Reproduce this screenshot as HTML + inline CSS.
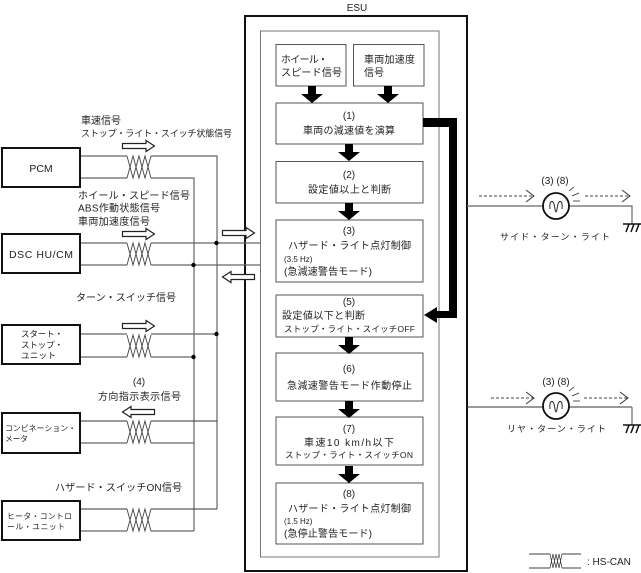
<!DOCTYPE html>
<html><head><meta charset="utf-8"><style>
html,body{margin:0;padding:0;background:#fff}
svg{display:block}
text{font-family:"Liberation Sans","Noto Sans CJK JP",sans-serif;fill:#222}
.g{stroke:#666;stroke-width:1.2;fill:none}
.d{stroke:#333;stroke-width:1;fill:none}
.b{fill:#fff;stroke:#555;stroke-width:1}
.k{fill:#fff;stroke:#111;stroke-width:2}
.h{fill:#fff;stroke:#222;stroke-width:1.2}
.dash{stroke:#444;stroke-width:1;fill:none;stroke-dasharray:3 2}
</style></head><body>
<svg width="641" height="573" viewBox="0 0 641 573" xmlns="http://www.w3.org/2000/svg">
<defs>
<path id="tw" d="M0 0L6 22L12 0L18 22L24 0M0 22L6 0L12 22L18 0L24 22" fill="none" stroke="#444" stroke-width="0.9"/>
<path id="ar" class="h" d="M0.5 -2.5H24V-5.5L32.5 0L24 5.5V2.5H0.5Z"/>
<path id="al" class="h" d="M32.5 -2.5H9V-5.5L0.5 0L9 5.5V2.5H32.5Z"/>
<path id="ba" fill="#000" d="M-4 0H4V8H11L0 17L-11 8H-4Z"/>
<g id="lamp"><circle r="13" fill="#fff" stroke="#111" stroke-width="1.8"/><path d="M-6 3C-7 -6 -3 -6 -2 -2C-1 1 -1 6 0 6C1 6 1 1 2 -2C3 -6 7 -6 6 3" fill="none" stroke="#222" stroke-width="1"/><path d="M13 -15L18 -19M16 -10L23 -13M17 -5H24" stroke="#555" stroke-width="1" fill="none"/></g>
<path id="gnd" d="M-9 0H9M-6 8L-3 0M-1 8L2 0M4 8L7 0" stroke="#111" stroke-width="1.5" fill="none"/>
<path id="oa" d="M0 -6L8 0L0 6" fill="none" stroke="#333" stroke-width="1"/>
</defs>

<!-- ESU -->
<text x="357" y="11" font-size="10" text-anchor="middle">ESU</text>
<rect x="245" y="16" width="222" height="555" fill="#fff" stroke="#111" stroke-width="2"/>

<!-- wires -->
<path class="g" d="M80 156H127M151 156H217V509"/>
<path class="g" d="M80 178H127M151 178H194V531"/>
<path class="g" d="M80 243H127M151 243H261"/>
<path class="g" d="M80 265H127M151 265H261"/>
<path class="g" d="M80 334H127M151 334H217"/>
<path class="g" d="M80 357H127M151 357H194"/>
<path class="d" d="M80 421H127M151 421H217"/>
<path class="g" d="M80 443H127M151 443H194"/>
<path class="d" d="M80 509H127M151 509H217"/>
<path class="g" d="M80 531H127M151 531H194"/>
<circle cx="216.500" cy="243" r="2.200" fill="#000"/><circle cx="193.500" cy="265" r="2.200" fill="#000"/>
<circle cx="216.500" cy="334" r="2.200" fill="#000"/><circle cx="193.500" cy="357" r="2.200" fill="#000"/>
<use href="#tw" x="127" y="156"/><use href="#tw" x="127" y="243"/><use href="#tw" x="127" y="335"/>
<use href="#tw" x="127" y="421"/><use href="#tw" x="127" y="509"/>

<!-- inner -->
<rect x="260.500" y="31" width="178.500" height="526" fill="none" stroke="#777" stroke-width="1"/>

<!-- ECU boxes -->
<rect class="b" x="276" y="44.500" width="70" height="41.500"/>
<rect class="b" x="353.500" y="44.500" width="70.500" height="41.500"/>
<rect class="b" x="276" y="103" width="147" height="41"/>
<rect class="b" x="276" y="161.500" width="147" height="41.500"/>
<rect class="b" x="276" y="220" width="147" height="62"/>
<rect class="b" x="276" y="295" width="147" height="42"/>
<rect class="b" x="276" y="353" width="147" height="48"/>
<rect class="b" x="276" y="417" width="147" height="48"/>
<rect class="b" x="276" y="483" width="147" height="61"/>

<!-- thick arrows -->
<use href="#ba" x="312" y="86"/><use href="#ba" x="388" y="86"/>
<use href="#ba" x="349" y="144"/><use href="#ba" x="349" y="203"/>
<use href="#ba" x="349" y="337"/><use href="#ba" x="349" y="401"/><use href="#ba" x="349" y="466"/>
<path fill="#000" d="M423 118H457V318H437V323L424 315L437 307V311H449V127H423Z"/>

<!-- hollow arrows -->
<use href="#ar" x="122" y="146"/><use href="#ar" x="122" y="234"/><use href="#ar" x="122" y="326"/>
<use href="#al" x="122" y="412"/><use href="#ar" x="222" y="233"/><use href="#al" x="222" y="277"/>

<!-- left boxes -->
<rect class="k" x="2" y="148" width="78" height="39"/>
<rect class="k" x="2" y="234" width="78" height="39"/>
<rect class="k" x="2" y="325" width="78" height="39"/>
<rect class="k" x="2" y="413" width="78" height="40"/>
<rect class="k" x="2" y="501" width="78" height="39"/>

<!-- left box text -->
<text x="41" y="172" font-size="10.500" text-anchor="middle">PCM</text>
<text x="41" y="258" font-size="10.500" text-anchor="middle" textLength="64">DSC HU/CM</text>
<text x="21" y="337" font-size="8.500" textLength="42">スタート・</text>
<text x="21" y="348" font-size="8.500" textLength="42">ストップ・</text>
<text x="21" y="358.500" font-size="8.500" textLength="35">ユニット</text>
<text x="5" y="431" font-size="7.800" textLength="71">コンビネーション・</text>
<text x="5" y="441.500" font-size="7.800" textLength="23">メータ</text>
<text x="7" y="519" font-size="7.800" textLength="65">ヒータ・コントロ</text>
<text x="7" y="529.500" font-size="7.800" textLength="58">ール・ユニット</text>

<!-- signal labels -->
<text x="81" y="124" font-size="10" textLength="40">車速信号</text>
<text x="81" y="136.500" font-size="9" textLength="151">ストップ・ライト・スイッチ状態信号</text>
<text x="78" y="199" font-size="10" textLength="112">ホイール・スピード信号</text>
<text x="78" y="211.500" font-size="10" textLength="82">ABS作動状態信号</text>
<text x="78" y="225" font-size="10" textLength="72">車両加速度信号</text>
<text x="76" y="301" font-size="10" textLength="100">ターン・スイッチ信号</text>
<text x="139" y="385" font-size="10" text-anchor="middle">(4)</text>
<text x="98" y="400" font-size="10" textLength="83">方向指示表示信号</text>
<text x="55" y="491" font-size="10" textLength="127">ハザード・スイッチON信号</text>

<!-- ECU text -->
<text x="281" y="63" font-size="10" textLength="47">ホイール・</text>
<text x="281" y="76" font-size="10" textLength="61">スピード信号</text>
<text x="364" y="63" font-size="10" textLength="51">車両加速度</text>
<text x="364" y="76" font-size="10" textLength="20">信号</text>
<text x="349" y="119" font-size="10" text-anchor="middle">(1)</text>
<text x="303" y="134" font-size="10" textLength="92">車両の減速値を演算</text>
<text x="349" y="178" font-size="10" text-anchor="middle">(2)</text>
<text x="308" y="193" font-size="10" textLength="83">設定値以上と判断</text>
<text x="349" y="234" font-size="10" text-anchor="middle">(3)</text>
<text x="288" y="249" font-size="10" textLength="123">ハザード・ライト点灯制御</text>
<text x="284" y="262" font-size="8">(3.5 Hz)</text>
<text x="284" y="275" font-size="10" textLength="88">(急減速警告モード)</text>
<text x="349" y="305" font-size="10" text-anchor="middle">(5)</text>
<text x="282" y="319" font-size="10" textLength="83">設定値以下と判断</text>
<text x="284" y="332" font-size="8.500" textLength="131">ストップ・ライト・スイッチOFF</text>
<text x="349" y="372" font-size="10" text-anchor="middle">(6)</text>
<text x="287" y="389" font-size="10" textLength="125">急減速警告モード作動停止</text>
<text x="349" y="432" font-size="10" text-anchor="middle">(7)</text>
<text x="304" y="446" font-size="10" textLength="90">車速10 km/h以下</text>
<text x="285" y="458" font-size="8.500" textLength="128">ストップ・ライト・スイッチON</text>
<text x="349" y="497" font-size="10" text-anchor="middle">(8)</text>
<text x="288" y="512" font-size="10" textLength="123">ハザード・ライト点灯制御</text>
<text x="284" y="524" font-size="8">(1.5 Hz)</text>
<text x="284" y="537" font-size="10" textLength="88">(急停止警告モード)</text>

<!-- right side 1 -->
<path class="g" d="M467 206H632V224"/>
<use href="#lamp" x="556" y="206"/>
<use href="#gnd" x="632" y="224"/>
<text x="555" y="184" font-size="10" text-anchor="middle">(3) (8)</text>
<path class="dash" d="M479 196H534M585 196H630"/><use href="#oa" x="526" y="196"/><use href="#oa" x="622" y="196"/>
<text x="500" y="240" font-size="9" textLength="110">サイド・ターン・ライト</text>

<!-- right side 2 -->
<path class="d" d="M467 407H632"/><path class="g" d="M632 407V425"/>
<use href="#lamp" x="556" y="406"/>
<use href="#gnd" x="632" y="425"/>
<text x="556" y="385" font-size="10" text-anchor="middle">(3) (8)</text>
<path class="dash" d="M491 398H534M584 398H628"/><use href="#oa" x="526" y="398"/><use href="#oa" x="620" y="398"/>
<text x="507" y="432" font-size="9" textLength="99">リヤ・ターン・ライト</text>

<!-- legend -->
<path class="g" d="M529 554H550M562 554H581M529 568H550M562 568H581"/>
<path d="M550 554L553 568L556 554L559 568L562 554M550 568L553 554L556 568L559 554L562 568" fill="none" stroke="#333" stroke-width="0.7"/>
<text x="587" y="565" font-size="10">: HS-CAN</text>
</svg>
</body></html>
